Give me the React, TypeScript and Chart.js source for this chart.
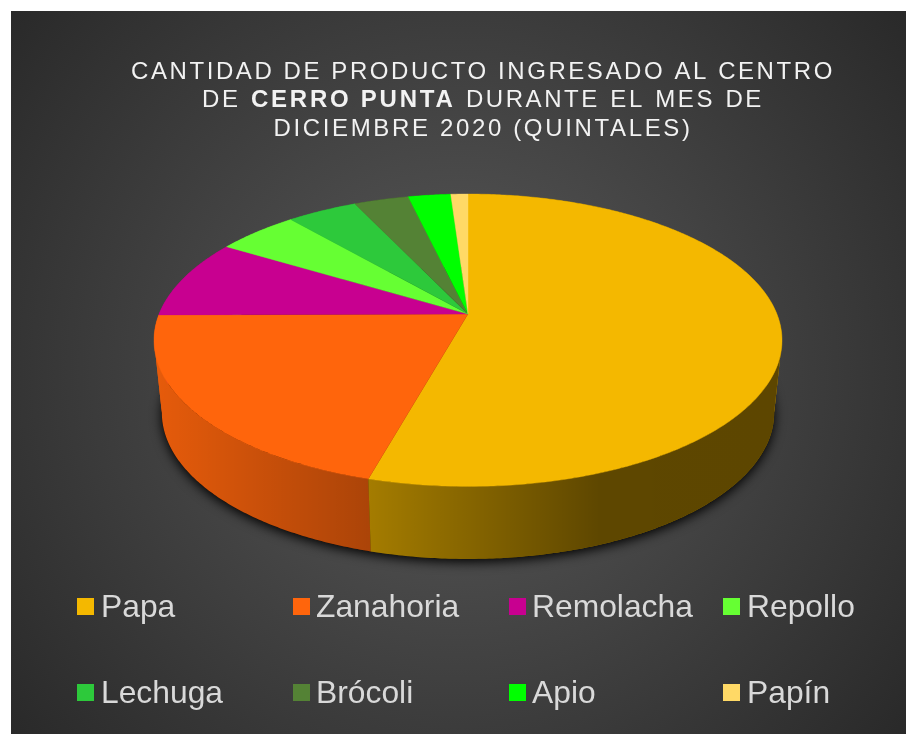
import React, { useEffect, useRef } from "react";
import { Chart, registerables } from "chart.js";

Chart.register(...registerables);

const categories = ["Papa", "Zanahoria", "Remolacha", "Repollo", "Lechuga", "Brócoli", "Apio", "Papín"];
const values = [54.3, 20.6, 8.8, 5.0, 4.3, 3.35, 2.6, 1.05];
const sliceColors = ["#F4B800", "#FF650C", "#C80090", "#66FF33", "#2DC93B", "#548235", "#00FF00", "#FFD966"];
const titleLines = [
  [{ t: "CANTIDAD DE PRODUCTO INGRESADO AL CENTRO", b: false }],
  [{ t: "DE ", b: false }, { t: "CERRO PUNTA", b: true }, { t: " DURANTE EL MES DE", b: false }],
  [{ t: "DICIEMBRE 2020 (QUINTALES)", b: false }],
];

const FONT = '"Liberation Sans", Arial, sans-serif';
// Perspective projection of the pie's disc onto the picture
const APEX_X = 468, APEX_Y = 314, KX = 308.9, KY = 141.5, Q = 0.1795, DEPTH = 72.5, BOTTOM_SCALE = 0.975;
const TANGENTS = [Math.asin(Q), Math.PI - Math.asin(Q)];

const project = (a: number, bottom: boolean): [number, number] => {
  const c = Math.cos(a), s = Math.sin(a);
  const d = 1 - Q * s;
  const X = (KX * c) / d, Y = (KY * s) / d;
  return bottom ? [APEX_X + X * BOTTOM_SCALE, APEX_Y + Y + DEPTH] : [APEX_X + X, APEX_Y + Y];
};

const tracePie = (ctx: CanvasRenderingContext2D, a0: number, a1: number, bottom: boolean, forward = true) => {
  const n = Math.max(2, Math.ceil(Math.abs(a1 - a0) / 0.01));
  for (let i = 0; i <= n; i++) {
    const a = forward ? a0 + ((a1 - a0) * i) / n : a1 + ((a0 - a1) * i) / n;
    const [x, y] = project(a, bottom);
    ctx.lineTo(x, y);
  }
};

const backdrop = {
  id: "backdrop",
  beforeDraw(chart: any) {
    const ctx = chart.ctx as CanvasRenderingContext2D;
    ctx.save();
    ctx.fillStyle = "#ffffff";
    ctx.fillRect(0, 0, chart.width, chart.height);
    const g = ctx.createRadialGradient(458, 372, 0, 458, 372, 590);
    g.addColorStop(0, "#5a5a5a");
    g.addColorStop(1, "#282828");
    ctx.fillStyle = g;
    ctx.fillRect(11, 11, chart.width - 11, chart.height - 11);
    ctx.restore();
  },
};

const pie3d = {
  id: "pie3d",
  beforeDatasetDraw(chart: any, args: any) {
    const ctx = chart.ctx as CanvasRenderingContext2D;
    const arcs = chart.getDatasetMeta(args.index).data as any[];
    const colors = chart.data.datasets[args.index].backgroundColor as string[];
    ctx.save();
    // contact shadow beneath the base
    ctx.save();
    ctx.shadowColor = "rgba(0,0,0,1)";
    ctx.shadowBlur = 12;
    ctx.shadowOffsetY = 3;
    ctx.fillStyle = "#000";
    ctx.beginPath();
    tracePie(ctx, 0, Math.PI * 2, true);
    ctx.closePath();
    ctx.fill();
    ctx.restore();
    // side walls
    const shade = ctx.createLinearGradient(155, 0, 782, 0);
    const stop = (x: number, f: number) => shade.addColorStop((x - 155) / 627, `rgba(0,0,0,${1 - f})`);
    stop(155, 0.9);
    stop(371, 0.67);
    stop(600, 0.385);
    stop(782, 0.38);
    // back slices first, so the front walls stay on top
    [...arcs.keys()].reverse().forEach((i) => {
      const { startAngle, endAngle } = arcs[i].getProps(["startAngle", "endAngle"], true);
      // split at the silhouette's tangent rungs so the wall reaches them
      const cuts = [startAngle];
      [...TANGENTS, TANGENTS[0] + Math.PI * 2, TANGENTS[1] + Math.PI * 2].forEach((t) => {
        if (t > startAngle && t < endAngle) cuts.push(t);
      });
      cuts.push(endAngle);
      for (let c = 0; c < cuts.length - 1; c++) {
        ctx.beginPath();
        tracePie(ctx, cuts[c], cuts[c + 1], false);
        tracePie(ctx, cuts[c], cuts[c + 1], true, false);
        ctx.closePath();
        ctx.fillStyle = colors[i];
        ctx.fill();
        ctx.fillStyle = shade;
        ctx.fill();
      }
    });
    // top faces
    arcs.forEach((arc, i) => {
      const { startAngle, endAngle } = arc.getProps(["startAngle", "endAngle"], true);
      ctx.beginPath();
      ctx.moveTo(APEX_X, APEX_Y);
      tracePie(ctx, startAngle, endAngle, false);
      ctx.closePath();
      ctx.fillStyle = colors[i];
      ctx.fill();
      ctx.strokeStyle = colors[i];
      ctx.lineWidth = 0.4;
      ctx.stroke();
    });
    ctx.restore();
    return false;
  },
};

const texts = {
  id: "texts",
  afterDraw(chart: any) {
    const ctx = chart.ctx as CanvasRenderingContext2D;
    ctx.save();
    // title
    ctx.textBaseline = "alphabetic";
    ctx.textAlign = "left";
    ctx.fillStyle = "#F2F2F2";
    const baselines = [79, 107, 136];
    const spacing = [2.57, 2.57, 2.65];
    const wordGap = [0, 1.2, 0];
    titleLines.forEach((runs, li) => {
      const setRun = (b: boolean) => {
        ctx.font = `${b ? "bold " : ""}24px ${FONT}`;
        (ctx as any).letterSpacing = b ? "2.75px" : `${spacing[li]}px`;
        (ctx as any).wordSpacing = b ? "0px" : `${wordGap[li]}px`;
      };
      let w = 0;
      runs.forEach((r) => {
        setRun(r.b);
        w += ctx.measureText(r.t).width;
      });
      let x = 483 - w / 2;
      runs.forEach((r) => {
        setRun(r.b);
        ctx.fillText(r.t, x, baselines[li]);
        x += ctx.measureText(r.t).width;
      });
    });
    // legend
    (ctx as any).letterSpacing = "0px";
    (ctx as any).wordSpacing = "0px";
    ctx.font = `31.8px ${FONT}`;
    const swatchX = [77, 293, 509, 723];
    const textX = [101, 316, 532, 747];
    const swatchY = [598, 684];
    const baseY = [617, 703];
    const colors = chart.data.datasets[0].backgroundColor as string[];
    (chart.data.labels as string[]).forEach((label, i) => {
      const col = i % 4, row = Math.floor(i / 4);
      ctx.fillStyle = colors[i];
      ctx.fillRect(swatchX[col], swatchY[row], 17, 17);
      ctx.fillStyle = "#D9D9D9";
      ctx.fillText(label, textX[col], baseY[row]);
    });
    ctx.restore();
  },
};

export default function App() {
  const ref = useRef<HTMLCanvasElement | null>(null);
  useEffect(() => {
    const chart = new Chart(ref.current as HTMLCanvasElement, {
      type: "pie",
      data: {
        labels: categories,
        datasets: [{ data: values, backgroundColor: sliceColors, borderWidth: 0 }],
      },
      options: {
        responsive: false,
        animation: false,
        plugins: { legend: { display: false }, title: { display: false }, tooltip: { enabled: false } },
      },
      plugins: [backdrop, pie3d, texts],
    } as any);
    return () => chart.destroy();
  }, []);
  return (
    <div style={{ position: "absolute", left: 0, top: 0, width: 906, height: 734 }}>
      <canvas ref={ref} width={906} height={734} style={{ display: "block" }} />
    </div>
  );
}
